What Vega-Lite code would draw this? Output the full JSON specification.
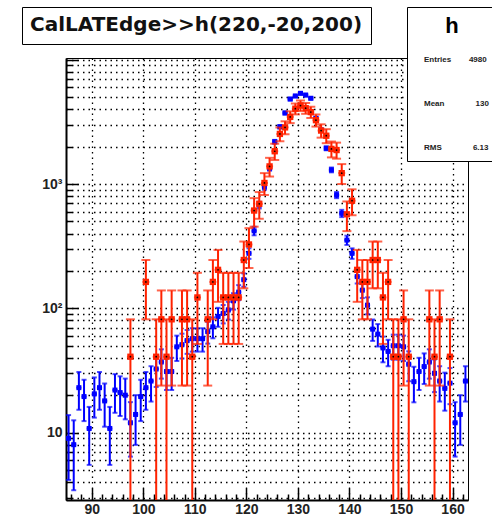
{
  "$schema": "https://vega.github.io/schema/vega-lite/v6.json",
  "width": 402,
  "height": 442,
  "autosize": "none",
  "padding": {"left": 66, "top": 58, "right": 24, "bottom": 21},
  "background": "white",
  "datasets": {
    "blue": [
      {"bin": 85.5, "v": 9, "lo": 4.16, "hi": 13.84},
      {"bin": 86.5, "v": 8, "lo": 3.44, "hi": 12.56},
      {"bin": 87.5, "v": 23, "lo": 15.27, "hi": 30.73},
      {"bin": 88.5, "v": 19.5, "lo": 12.38, "hi": 26.62},
      {"bin": 89.5, "v": 10.8, "lo": 5.5, "hi": 16.1},
      {"bin": 90.5, "v": 20.5, "lo": 13.2, "hi": 27.8},
      {"bin": 91.5, "v": 23, "lo": 15.27, "hi": 30.73},
      {"bin": 92.5, "v": 18, "lo": 11.16, "hi": 24.84},
      {"bin": 93.5, "v": 10.8, "lo": 5.5, "hi": 16.1},
      {"bin": 94.5, "v": 22, "lo": 14.44, "hi": 29.56},
      {"bin": 95.5, "v": 21, "lo": 13.61, "hi": 28.39},
      {"bin": 96.5, "v": 20, "lo": 12.79, "hi": 27.21},
      {"bin": 97.5, "v": 12, "lo": 6.41, "hi": 17.59},
      {"bin": 98.5, "v": 14, "lo": 7.97, "hi": 20.03},
      {"bin": 99.5, "v": 19.5, "lo": 12.38, "hi": 26.62},
      {"bin": 100.5, "v": 23, "lo": 15.27, "hi": 30.73},
      {"bin": 101.5, "v": 26, "lo": 17.78, "hi": 34.22},
      {"bin": 102.5, "v": 32.5, "lo": 23.31, "hi": 41.69},
      {"bin": 103.5, "v": 37, "lo": 27.19, "hi": 46.81},
      {"bin": 104.5, "v": 31, "lo": 22.02, "hi": 39.98},
      {"bin": 105.5, "v": 31, "lo": 22.02, "hi": 39.98},
      {"bin": 106.5, "v": 49, "lo": 37.71, "hi": 60.29},
      {"bin": 107.5, "v": 51, "lo": 39.48, "hi": 62.52},
      {"bin": 108.5, "v": 55, "lo": 43.04, "hi": 66.96},
      {"bin": 109.5, "v": 57, "lo": 44.83, "hi": 69.17},
      {"bin": 110.5, "v": 57, "lo": 44.83, "hi": 69.17},
      {"bin": 111.5, "v": 57, "lo": 44.83, "hi": 69.17},
      {"bin": 112.5, "v": 65, "lo": 52, "hi": 78},
      {"bin": 113.5, "v": 71, "lo": 57.41, "hi": 84.59},
      {"bin": 114.5, "v": 86, "lo": 71.05, "hi": 100.95},
      {"bin": 115.5, "v": 91, "lo": 75.62, "hi": 106.38},
      {"bin": 116.5, "v": 97, "lo": 81.12, "hi": 112.88},
      {"bin": 117.5, "v": 115, "lo": 97.71, "hi": 132.29},
      {"bin": 118.5, "v": 135, "lo": 116.27, "hi": 153.73},
      {"bin": 119.5, "v": 170, "lo": 148.98, "hi": 191.02},
      {"bin": 120.5, "v": 277, "lo": 250.16, "hi": 303.84},
      {"bin": 121.5, "v": 420, "lo": 386.95, "hi": 453.05},
      {"bin": 122.5, "v": 678, "lo": 636, "hi": 720},
      {"bin": 123.5, "v": 950, "lo": 900.3, "hi": 999.7},
      {"bin": 124.5, "v": 1340, "lo": 1281, "hi": 1399},
      {"bin": 125.5, "v": 2190, "lo": 2114.5, "hi": 2265.5},
      {"bin": 126.5, "v": 2890, "lo": 2803, "hi": 2977},
      {"bin": 127.5, "v": 3730, "lo": 3631.5, "hi": 3828.5},
      {"bin": 128.5, "v": 4830, "lo": 4718, "hi": 4942},
      {"bin": 129.5, "v": 5110, "lo": 4995, "hi": 5225},
      {"bin": 130.5, "v": 5370, "lo": 5252, "hi": 5488},
      {"bin": 131.5, "v": 5200, "lo": 5084, "hi": 5316},
      {"bin": 132.5, "v": 4900, "lo": 4787, "hi": 5013},
      {"bin": 133.5, "v": 3380, "lo": 3286, "hi": 3474},
      {"bin": 134.5, "v": 2720, "lo": 2636, "hi": 2804},
      {"bin": 135.5, "v": 1940, "lo": 1869, "hi": 2011},
      {"bin": 136.5, "v": 1300, "lo": 1242, "hi": 1358},
      {"bin": 137.5, "v": 816, "lo": 770, "hi": 862},
      {"bin": 138.5, "v": 581, "lo": 542, "hi": 620},
      {"bin": 139.5, "v": 354, "lo": 323.7, "hi": 384.3},
      {"bin": 140.5, "v": 277, "lo": 250.2, "hi": 303.8},
      {"bin": 141.5, "v": 180, "lo": 158.4, "hi": 201.6},
      {"bin": 142.5, "v": 140, "lo": 120.9, "hi": 159.1},
      {"bin": 143.5, "v": 106, "lo": 89.4, "hi": 122.6},
      {"bin": 144.5, "v": 68, "lo": 54.7, "hi": 81.3},
      {"bin": 145.5, "v": 62, "lo": 49.3, "hi": 74.7},
      {"bin": 146.5, "v": 48, "lo": 36.8, "hi": 59.2},
      {"bin": 147.5, "v": 45, "lo": 34.2, "hi": 55.8},
      {"bin": 148.5, "v": 50, "lo": 38.6, "hi": 61.4},
      {"bin": 149.5, "v": 50, "lo": 38.6, "hi": 61.4},
      {"bin": 150.5, "v": 49, "lo": 37.7, "hi": 60.3},
      {"bin": 151.5, "v": 35.5, "lo": 25.9, "hi": 45.1},
      {"bin": 152.5, "v": 25.7, "lo": 17.53, "hi": 33.87},
      {"bin": 153.5, "v": 31, "lo": 22.02, "hi": 39.98},
      {"bin": 154.5, "v": 34, "lo": 24.6, "hi": 43.4},
      {"bin": 155.5, "v": 37, "lo": 27.19, "hi": 46.81},
      {"bin": 156.5, "v": 30, "lo": 21.17, "hi": 38.83},
      {"bin": 157.5, "v": 26, "lo": 17.78, "hi": 34.22},
      {"bin": 158.5, "v": 22.7, "lo": 15.02, "hi": 30.38},
      {"bin": 159.5, "v": 25, "lo": 16.94, "hi": 33.06},
      {"bin": 160.5, "v": 12, "lo": 6.41, "hi": 17.59},
      {"bin": 161.5, "v": 14, "lo": 7.97, "hi": 20.03},
      {"bin": 162.5, "v": 26, "lo": 17.78, "hi": 34.22}
    ],
    "red": [
      {"bin": 97.5, "v": 40.8, "lo": 1, "hi": 81.6},
      {"bin": 100.5, "v": 163.2, "lo": 81.6, "hi": 244.8},
      {"bin": 102.5, "v": 40.8, "lo": 1, "hi": 81.6},
      {"bin": 103.5, "v": 81.6, "lo": 23.9, "hi": 139.3},
      {"bin": 104.5, "v": 40.8, "lo": 1, "hi": 81.6},
      {"bin": 105.5, "v": 81.6, "lo": 23.9, "hi": 139.3},
      {"bin": 107.5, "v": 81.6, "lo": 23.9, "hi": 139.3},
      {"bin": 108.5, "v": 81.6, "lo": 23.9, "hi": 139.3},
      {"bin": 109.5, "v": 40.8, "lo": 1, "hi": 81.6},
      {"bin": 110.5, "v": 122.4, "lo": 51.7, "hi": 193.1},
      {"bin": 112.5, "v": 81.6, "lo": 23.9, "hi": 139.3},
      {"bin": 113.5, "v": 163.2, "lo": 81.6, "hi": 244.8},
      {"bin": 114.5, "v": 204, "lo": 112.8, "hi": 295.2},
      {"bin": 115.5, "v": 122.4, "lo": 51.7, "hi": 193.1},
      {"bin": 116.5, "v": 122.4, "lo": 51.7, "hi": 193.1},
      {"bin": 117.5, "v": 122.4, "lo": 51.7, "hi": 193.1},
      {"bin": 118.5, "v": 122.4, "lo": 51.7, "hi": 193.1},
      {"bin": 119.5, "v": 244.8, "lo": 144.9, "hi": 344.7},
      {"bin": 120.5, "v": 326.4, "lo": 211, "hi": 441.8},
      {"bin": 121.5, "v": 612, "lo": 454, "hi": 770},
      {"bin": 122.5, "v": 693.6, "lo": 525.4, "hi": 861.8},
      {"bin": 123.5, "v": 1020, "lo": 816, "hi": 1224},
      {"bin": 124.5, "v": 1387, "lo": 1149, "hi": 1625},
      {"bin": 125.5, "v": 1836, "lo": 1562, "hi": 2110},
      {"bin": 126.5, "v": 2530, "lo": 2209, "hi": 2851},
      {"bin": 127.5, "v": 2856, "lo": 2515, "hi": 3197},
      {"bin": 128.5, "v": 3468, "lo": 3092, "hi": 3844},
      {"bin": 129.5, "v": 4039, "lo": 3633, "hi": 4445},
      {"bin": 130.5, "v": 4284, "lo": 3866, "hi": 4702},
      {"bin": 131.5, "v": 4080, "lo": 3672, "hi": 4488},
      {"bin": 132.5, "v": 3794, "lo": 3401, "hi": 4187},
      {"bin": 133.5, "v": 3264, "lo": 2899, "hi": 3629},
      {"bin": 134.5, "v": 2693, "lo": 2362, "hi": 3024},
      {"bin": 135.5, "v": 2448, "lo": 2132, "hi": 2764},
      {"bin": 136.5, "v": 1918, "lo": 1638, "hi": 2198},
      {"bin": 137.5, "v": 1877, "lo": 1600, "hi": 2154},
      {"bin": 138.5, "v": 1224, "lo": 1001, "hi": 1447},
      {"bin": 139.5, "v": 571, "lo": 418, "hi": 724},
      {"bin": 140.5, "v": 734, "lo": 561, "hi": 907},
      {"bin": 141.5, "v": 204, "lo": 112.8, "hi": 295.2},
      {"bin": 142.5, "v": 163.2, "lo": 81.6, "hi": 244.8},
      {"bin": 143.5, "v": 163.2, "lo": 81.6, "hi": 244.8},
      {"bin": 144.5, "v": 244.8, "lo": 144.9, "hi": 344.7},
      {"bin": 145.5, "v": 244.8, "lo": 144.9, "hi": 344.7},
      {"bin": 146.5, "v": 122.4, "lo": 51.7, "hi": 193.1},
      {"bin": 147.5, "v": 163.2, "lo": 81.6, "hi": 244.8},
      {"bin": 148.5, "v": 40.8, "lo": 1, "hi": 81.6},
      {"bin": 149.5, "v": 40.8, "lo": 1, "hi": 81.6},
      {"bin": 150.5, "v": 81.6, "lo": 23.9, "hi": 139.3},
      {"bin": 151.5, "v": 40.8, "lo": 1, "hi": 81.6},
      {"bin": 155.5, "v": 81.6, "lo": 23.9, "hi": 139.3},
      {"bin": 156.5, "v": 40.8, "lo": 1, "hi": 81.6},
      {"bin": 157.5, "v": 81.6, "lo": 23.9, "hi": 139.3},
      {"bin": 159.5, "v": 40.8, "lo": 1, "hi": 81.6}
    ],
    "stats": [
      {"hist": "h", "stat": "Entries", "value": 4980},
      {"hist": "h", "stat": "Mean", "value": 130},
      {"hist": "h", "stat": "RMS", "value": 6.13}
    ]
  },
  "config": {
    "view": {"stroke": "black", "strokeWidth": 1},
    "axis": {
      "domainColor": "black",
      "domainWidth": 2,
      "tickColor": "black",
      "tickWidth": 1.5,
      "gridColor": "black",
      "gridDash": [1.5, 4],
      "gridWidth": 1.3,
      "labelFont": "Liberation Sans",
      "labelFontWeight": "bold",
      "labelFontSize": 14,
      "labelColor": "#222222",
      "title": null
    }
  },
  "encoding": {
    "x": {
      "field": "bin",
      "type": "quantitative",
      "scale": {"domain": [85, 163], "nice": false, "zero": false},
      "axis": {
        "values": [86, 88, 90, 92, 94, 96, 98, 100, 102, 104, 106, 108, 110, 112, 114, 116, 118, 120, 122, 124, 126, 128, 130, 132, 134, 136, 138, 140, 142, 144, 146, 148, 150, 152, 154, 156, 158, 160, 162],
        "labelExpr": "datum.value % 10 == 0 ? datum.label : ''",
        "tickSize": {"condition": {"test": "datum.value % 10 == 0", "value": -12}, "value": -6},
        "gridOpacity": {"condition": {"test": "datum.value % 10 == 0", "value": 1}, "value": 0},
        "labelPadding": 14,
        "labelFlush": false,
        "labelOverlap": false,
        "title": null
      }
    }
  },
  "layer": [
    {
      "data": {"name": "blue"},
      "mark": {"type": "rule", "color": "#0000ff", "strokeWidth": 2, "clip": true},
      "encoding": {
        "y": {
          "field": "lo",
          "type": "quantitative",
          "scale": {"type": "log", "domain": [2.87, 10330], "nice": false},
          "axis": {
            "values": [3, 4, 5, 6, 7, 8, 9, 10, 20, 30, 40, 50, 60, 70, 80, 90, 100, 200, 300, 400, 500, 600, 700, 800, 900, 1000, 2000, 3000, 4000, 5000, 6000, 7000, 8000, 9000, 10000],
            "labelExpr": "datum.value == 10 ? '10' : datum.value == 100 ? '10²' : datum.value == 1000 ? '10³' : ''",
            "tickSize": {"condition": {"test": "datum.value == 10 || datum.value == 100 || datum.value == 1000 || datum.value == 10000", "value": -12}, "value": -6},
            "labelPadding": 16,
            "labelOverlap": false,
            "labelFlush": false,
            "title": null
          }
        },
        "y2": {"field": "hi"}
      }
    },
    {
      "data": {"name": "blue"},
      "mark": {"type": "tick", "orient": "horizontal", "color": "#0000ff", "size": 5.2, "thickness": 2, "clip": true},
      "encoding": {"y": {"field": "v", "type": "quantitative", "title": null}}
    },
    {
      "data": {"name": "blue"},
      "mark": {"type": "tick", "orient": "horizontal", "color": "#0000ff", "size": 5, "thickness": 2, "clip": true},
      "encoding": {"y": {"field": "lo", "type": "quantitative", "title": null}}
    },
    {
      "data": {"name": "blue"},
      "mark": {"type": "tick", "orient": "horizontal", "color": "#0000ff", "size": 5, "thickness": 2, "clip": true},
      "encoding": {"y": {"field": "hi", "type": "quantitative", "title": null}}
    },
    {
      "data": {"name": "blue"},
      "mark": {"type": "point", "shape": "square", "filled": true, "color": "#0000ff", "size": 25, "opacity": 1, "clip": true},
      "encoding": {"y": {"field": "v", "type": "quantitative", "title": null}}
    },
    {
      "data": {"name": "red"},
      "mark": {"type": "rule", "color": "#ff2200", "strokeWidth": 2, "clip": true},
      "encoding": {
        "y": {"field": "lo", "type": "quantitative", "title": null},
        "y2": {"field": "hi"}
      }
    },
    {
      "data": {"name": "red"},
      "mark": {"type": "tick", "orient": "horizontal", "color": "#ff2200", "size": 7, "thickness": 2, "clip": true},
      "encoding": {"y": {"field": "v", "type": "quantitative", "title": null}}
    },
    {
      "data": {"name": "red"},
      "mark": {"type": "tick", "orient": "horizontal", "color": "#ff2200", "size": 9, "thickness": 2, "clip": true},
      "encoding": {"y": {"field": "lo", "type": "quantitative", "title": null}}
    },
    {
      "data": {"name": "red"},
      "mark": {"type": "tick", "orient": "horizontal", "color": "#ff2200", "size": 9, "thickness": 2, "clip": true},
      "encoding": {"y": {"field": "hi", "type": "quantitative", "title": null}}
    },
    {
      "data": {"name": "red"},
      "mark": {"type": "point", "shape": "square", "filled": true, "color": "#ff2200", "size": 40, "opacity": 1, "clip": true},
      "encoding": {"y": {"field": "v", "type": "quantitative", "title": null}}
    },
    {
      "data": {"name": "red"},
      "mark": {"type": "point", "shape": "circle", "filled": true, "color": "black", "size": 3, "opacity": 1, "clip": true},
      "encoding": {"y": {"field": "v", "type": "quantitative", "title": null}}
    },
    {
      "data": {"name": "stats"},
      "mark": {"type": "point", "opacity": 0},
      "encoding": {
        "x": {"value": 0},
        "y": {"value": 0},
        "color": {
          "field": "stat",
          "type": "nominal",
          "scale": {"domain": ["Entries", "Mean", "RMS"], "range": ["white", "white", "white"]},
          "legend": {
            "orient": "none",
            "legendX": 341,
            "legendY": -51,
            "title": "h",
            "titleFont": "Liberation Sans",
            "titleFontSize": 22,
            "titleFontWeight": "bold",
            "titleColor": "black",
            "titleAnchor": "middle",
            "titleAlign": "center",
            "titlePadding": 18,
            "labelFont": "Liberation Sans",
            "labelFontSize": 8,
            "labelFontWeight": "bold",
            "labelColor": "#222222",
            "labelLimit": 200,
            "labelExpr": "datum.label == 'Entries' ? 'Entries\u00a0\u00a0\u00a0\u00a0\u00a0\u00a0\u00a0\u00a04980' : datum.label == 'Mean' ? 'Mean\u00a0\u00a0\u00a0\u00a0\u00a0\u00a0\u00a0\u00a0\u00a0\u00a0\u00a0\u00a0\u00a0\u00a0130' : 'RMS\u00a0\u00a0\u00a0\u00a0\u00a0\u00a0\u00a0\u00a0\u00a0\u00a0\u00a0\u00a0\u00a0\u00a06.13'",
            "labelOffset": 0,
            "symbolSize": 0,
            "symbolOpacity": 0,
            "symbolStrokeWidth": 0,
            "rowPadding": 36,
            "padding": 9,
            "strokeColor": "black",
            "fillColor": "white",
            "cornerRadius": 0
          }
        },
        "shape": {
          "field": "hist",
          "type": "nominal",
          "scale": {"domain": ["h"], "range": ["square"]},
          "legend": {
            "orient": "none",
            "legendX": -44,
            "legendY": -51,
            "title": "CalLATEdge>>h(220,-20,200)",
            "titleFont": "DejaVu Sans",
            "titleFontSize": 20,
            "titleFontWeight": "bold",
            "titleColor": "#111111",
            "titleLimit": 400,
            "titlePadding": 0,
            "labelExpr": "''",
            "labelFontSize": 1,
            "symbolSize": 0,
            "symbolOpacity": 0,
            "symbolStrokeWidth": 0,
            "padding": 8,
            "strokeColor": "black",
            "fillColor": "white"
          }
        }
      }
    }
  ]
}
